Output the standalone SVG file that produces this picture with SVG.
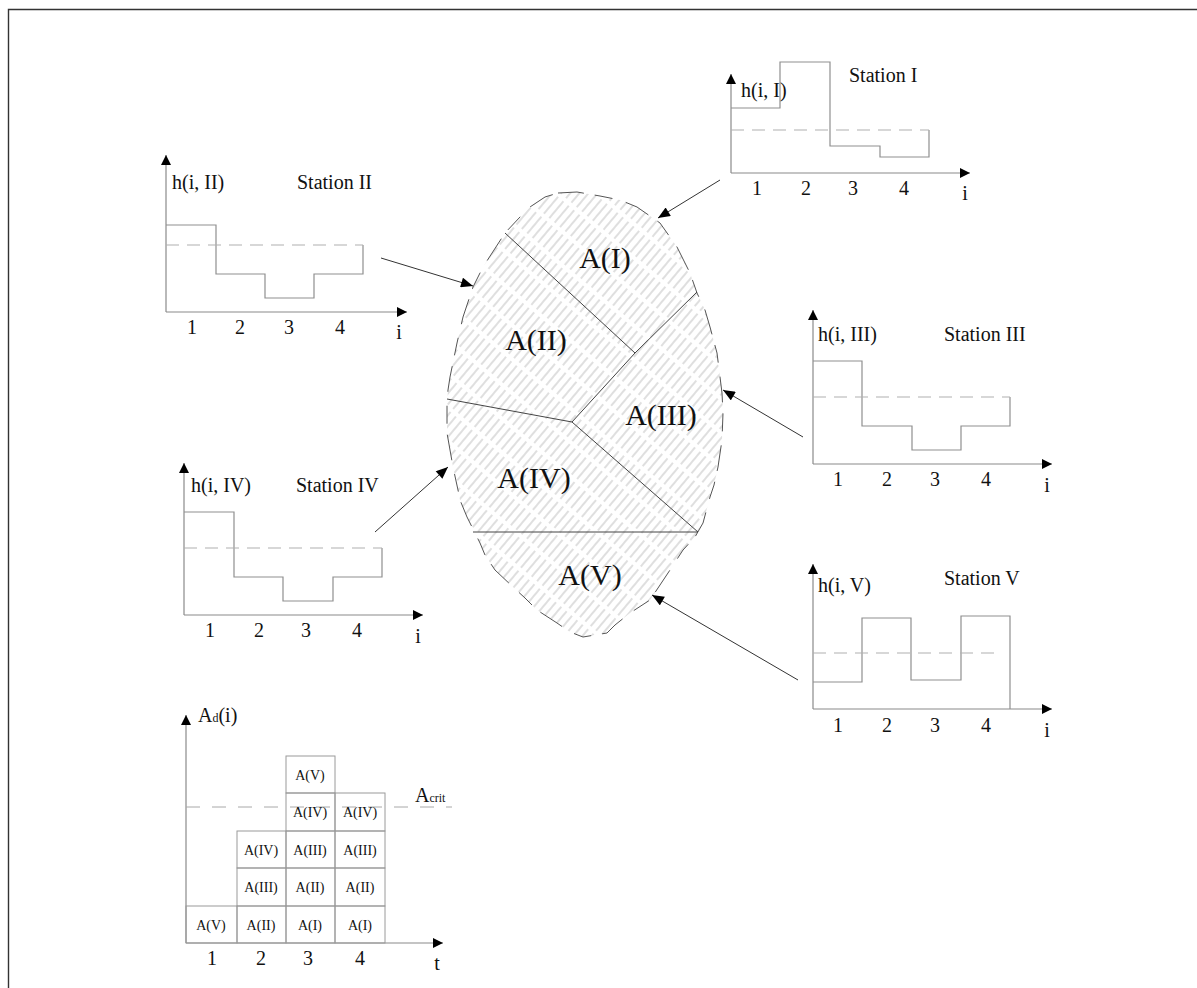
<svg xmlns="http://www.w3.org/2000/svg" width="1197" height="988" viewBox="0 0 1197 988">
  <style>
    text { font-family: "Liberation Serif", "Times New Roman", serif; fill: #111; }
    .lbl { font-size: 20px; }
    .num { font-size: 20px; text-anchor: middle; }
    .area { font-size: 30px; text-anchor: middle; }
    .cell { font-size: 14px; text-anchor: middle; }
    .axis { stroke: #8a8a8a; stroke-width: 1.2; fill: none; }
    .step { stroke: #8f8f8f; stroke-width: 1.2; fill: none; }
    .mean { stroke: #b0b0b0; stroke-width: 1.2; stroke-dasharray: 13 8; fill: none; }
    .box { stroke: #9a9a9a; stroke-width: 1; fill: none; }
    .conn { stroke: #333; stroke-width: 1; fill: none; }
    .div { stroke: #444; stroke-width: 1; fill: none; }
  </style>
  <defs>
    <marker id="ax" viewBox="0 0 10 10" refX="10" refY="5" markerWidth="10" markerHeight="10" markerUnits="userSpaceOnUse" orient="auto">
      <path d="M0,0 L10,5 L0,10 Z" fill="#000"/>
    </marker>
    <marker id="arr" viewBox="0 0 12 10" refX="12" refY="5" markerWidth="13" markerHeight="10" markerUnits="userSpaceOnUse" orient="auto">
      <path d="M0,0 L12,5 L0,10 Z" fill="#000"/>
    </marker>
    <pattern id="hatch" width="7" height="52" patternUnits="userSpaceOnUse" patternTransform="rotate(40)">
      <line x1="1" y1="0" x2="1" y2="52" stroke="#a4a4a4" stroke-width="0.7" stroke-dasharray="22 4"/>
    </pattern>
  </defs>

  <!-- frame -->
  <g id="frame">
    <path d="M8.5,988 L8.5,9.5 L1197,9.5" stroke="#333" stroke-width="1.4" fill="none"/>
  </g>

  <!-- central area split into sub-catchments -->
  <g id="catchment">
    <path d="M558,193 L577,192 L600,196 L620,200 L637,207 L660,223 L677,247 L690,273 L697,293 L705,310 L710,327 L717,353 L720,377 L722,393 L723,413 L722,440 L718,467 L714,485 L710,497 L703,523 L695,537 L683,550 L670,570 L660,585 L650,600 L630,613 L615,625 L607,633 L583,637 L570,632 L557,623 L537,610 L525,598 L513,587 L495,570 L485,555 L480,543 L467,517 L460,500 L458,490 L453,467 L450,450 L447,433 L447,405 L448,390 L450,377 L457,343 L460,330 L463,317 L473,287 L478,277 L483,267 L505,233 L520,217 L530,207 L545,197 Z" fill="url(#hatch)" stroke="#555" stroke-width="1" stroke-dasharray="26 11 18 14"/>
    <path class="div" d="M505,233 L635,353"/>
    <path class="div" d="M697,292 L635,353 L572,422"/>
    <path class="div" d="M447,399 L572,422 L698,532"/>
    <path class="div" d="M473,532 L698,532" stroke="#777"/>
    <text class="area" x="605" y="268">A(I)</text>
    <text class="area" x="536" y="350">A(II)</text>
    <text class="area" x="661" y="425">A(III)</text>
    <text class="area" x="534" y="488">A(IV)</text>
    <text class="area" x="590" y="585">A(V)</text>
  </g>

  <!-- Station I -->
  <g id="station-1">
    <path class="axis" d="M731,173 L731,74" marker-end="url(#ax)"/>
    <path class="axis" d="M731,173 L970,173" marker-end="url(#ax)"/>
    <path class="step" d="M731,108 L780,108 L780,62 L830,62 L830,146 L880,146 L880,157 L929,157 L929,130"/>
    <path class="mean" d="M731,130 L929,130"/>
    <text class="lbl" x="741" y="97">h(i, I)</text>
    <text class="lbl" x="849" y="82">Station I</text>
    <text class="num" x="757" y="195">1</text>
    <text class="num" x="806" y="195">2</text>
    <text class="num" x="853" y="195">3</text>
    <text class="num" x="904" y="195">4</text>
    <text class="num" x="965" y="200">i</text>
  </g>

  <!-- Station II -->
  <g id="station-2">
    <path class="axis" d="M166,312 L166,155" marker-end="url(#ax)"/>
    <path class="axis" d="M166,312 L407,312" marker-end="url(#ax)"/>
    <path class="step" d="M166,225 L216,225 L216,274 L265,274 L265,298 L314,298 L314,274 L363,274 L363,245"/>
    <path class="mean" d="M166,245 L363,245"/>
    <text class="lbl" x="172" y="189">h(i, II)</text>
    <text class="lbl" x="297" y="189">Station II</text>
    <text class="num" x="192" y="334">1</text>
    <text class="num" x="240" y="334">2</text>
    <text class="num" x="289" y="334">3</text>
    <text class="num" x="340" y="334">4</text>
    <text class="num" x="399" y="339">i</text>
  </g>

  <!-- Station III -->
  <g id="station-3">
    <path class="axis" d="M813,464 L813,310" marker-end="url(#ax)"/>
    <path class="axis" d="M813,464 L1052,464" marker-end="url(#ax)"/>
    <path class="step" d="M813,361 L862,361 L862,426 L912,426 L912,450 L961,450 L961,426 L1010,426 L1010,397"/>
    <path class="mean" d="M813,397 L1010,397"/>
    <text class="lbl" x="818" y="341">h(i, III)</text>
    <text class="lbl" x="944" y="341">Station III</text>
    <text class="num" x="838" y="486">1</text>
    <text class="num" x="887" y="486">2</text>
    <text class="num" x="935" y="486">3</text>
    <text class="num" x="986" y="486">4</text>
    <text class="num" x="1047" y="492">i</text>
  </g>

  <!-- Station IV -->
  <g id="station-4">
    <path class="axis" d="M184,615 L184,463" marker-end="url(#ax)"/>
    <path class="axis" d="M184,615 L423,615" marker-end="url(#ax)"/>
    <path class="step" d="M184,512 L234,512 L234,577 L283,577 L283,601 L333,601 L333,577 L382,577 L382,548"/>
    <path class="mean" d="M184,548 L382,548"/>
    <text class="lbl" x="191" y="492">h(i, IV)</text>
    <text class="lbl" x="296" y="492">Station IV</text>
    <text class="num" x="210" y="637">1</text>
    <text class="num" x="259" y="637">2</text>
    <text class="num" x="306" y="637">3</text>
    <text class="num" x="357" y="637">4</text>
    <text class="num" x="418" y="643">i</text>
  </g>

  <!-- Station V -->
  <g id="station-5">
    <path class="axis" d="M813,709 L813,564" marker-end="url(#ax)"/>
    <path class="axis" d="M813,709 L1052,709" marker-end="url(#ax)"/>
    <path class="step" d="M813,682 L862,682 L862,618 L911,618 L911,680 L961,680 L961,616 L1010,616 L1010,709"/>
    <path class="mean" d="M813,653 L1000,653"/>
    <text class="lbl" x="818" y="592">h(i, V)</text>
    <text class="lbl" x="944" y="585">Station V</text>
    <text class="num" x="838" y="732">1</text>
    <text class="num" x="887" y="732">2</text>
    <text class="num" x="935" y="732">3</text>
    <text class="num" x="986" y="732">4</text>
    <text class="num" x="1047" y="737">i</text>
  </g>

  <!-- station-to-area connectors -->
  <g id="connectors">
    <path class="conn" d="M720,180 L658,218" marker-end="url(#arr)"/>
    <path class="conn" d="M381,258 L473,286" marker-end="url(#arr)"/>
    <path class="conn" d="M803,437 L723,390" marker-end="url(#arr)"/>
    <path class="conn" d="M375,532 L448,467" marker-end="url(#arr)"/>
    <path class="conn" d="M798,680 L652,595" marker-end="url(#arr)"/>
  </g>

  <!-- accumulated area over time -->
  <g id="area-chart">
    <path class="axis" d="M186,943 L186,715" marker-end="url(#ax)"/>
    <path class="axis" d="M186,943 L443,943" marker-end="url(#ax)"/>
    <path d="M186,807 L452,807" stroke="#a8a8a8" stroke-width="1" stroke-dasharray="14 12" fill="none"/>
    <!-- t = 1 -->
    <rect class="box" x="186" y="906" width="51" height="37"/>
    <!-- t = 2 -->
    <rect class="box" x="237" y="906" width="49" height="37"/>
    <rect class="box" x="237" y="868" width="49" height="38"/>
    <rect class="box" x="237" y="831" width="49" height="37"/>
    <!-- t = 3 -->
    <rect class="box" x="286" y="906" width="49" height="37"/>
    <rect class="box" x="286" y="868" width="49" height="38"/>
    <rect class="box" x="286" y="831" width="49" height="37"/>
    <rect class="box" x="286" y="793" width="49" height="38"/>
    <rect class="box" x="286" y="756" width="49" height="37"/>
    <!-- t = 4 -->
    <rect class="box" x="335" y="906" width="50" height="37"/>
    <rect class="box" x="335" y="868" width="50" height="38"/>
    <rect class="box" x="335" y="831" width="50" height="37"/>
    <rect class="box" x="335" y="793" width="50" height="38"/>

    <text class="cell" x="211" y="930">A(V)</text>
    <text class="cell" x="261" y="930">A(II)</text>
    <text class="cell" x="261" y="892">A(III)</text>
    <text class="cell" x="261" y="855">A(IV)</text>
    <text class="cell" x="310" y="930">A(I)</text>
    <text class="cell" x="310" y="892">A(II)</text>
    <text class="cell" x="310" y="855">A(III)</text>
    <text class="cell" x="310" y="817">A(IV)</text>
    <text class="cell" x="310" y="780">A(V)</text>
    <text class="cell" x="360" y="930">A(I)</text>
    <text class="cell" x="360" y="892">A(II)</text>
    <text class="cell" x="360" y="855">A(III)</text>
    <text class="cell" x="360" y="817">A(IV)</text>

    <text class="lbl" x="198" y="722">A<tspan font-size="12">d</tspan>(i)</text>
    <text class="lbl" x="415" y="802">A<tspan font-size="12">crit</tspan></text>
    <text class="num" x="212" y="965">1</text>
    <text class="num" x="261" y="965">2</text>
    <text class="num" x="308" y="965">3</text>
    <text class="num" x="360" y="965">4</text>
    <text class="num" x="437" y="970">t</text>
  </g>
</svg>
